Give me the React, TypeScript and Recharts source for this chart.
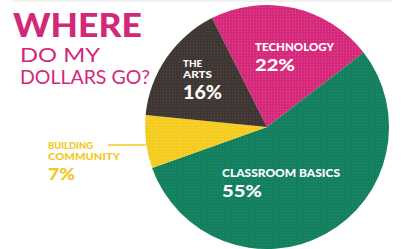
import React from 'react';
import { PieChart, Pie, Cell } from 'recharts';

const categories = ['TECHNOLOGY', 'CLASSROOM BASICS', 'BUILDING COMMUNITY', 'THE ARTS'];
const values = [22, 55, 7, 16];
const colors = ['#d5287a', '#137f5f', '#f5cb1e', '#3f3532'];
const dotColors = ['#e0478c', '#1f8c6b', '#f8d845', '#4e4441'];
const titleLines = ['WHERE', 'DO MY', 'DOLLARS GO?'];

const data = categories.map((name, i) => ({ name, value: values[i] }));

const W = 404;
const H = 249;

export default function App() {
  const sans = 'Lato, "Open Sans", sans-serif';
  return (
    <div style={{ position: 'absolute', left: 0, top: 0, width: W, height: H, background: '#fff', overflow: 'hidden' }}>
      <svg width={0} height={0} style={{ position: 'absolute' }}>
        <defs>
          {colors.map((c, i) => (
            <pattern key={i} id={`dots${i}`} width={3} height={3} patternUnits="userSpaceOnUse">
              <rect width={3} height={3} fill={c} />
              <circle cx={1.5} cy={1.5} r={0.7} fill={dotColors[i]} />
            </pattern>
          ))}
        </defs>
      </svg>
      <div style={{ position: 'absolute', left: 0, top: 0 }}>
        <PieChart width={W} height={H} margin={{ top: 0, right: 0, bottom: 0, left: 0 }}>
          <Pie
            data={data}
            dataKey="value"
            nameKey="name"
            cx={267}
            cy={127}
            outerRadius={122}
            startAngle={116.8}
            endAngle={-243.2}
            stroke="none"
            isAnimationActive={false}
            label={false}
            labelLine={false}
          >
            {data.map((d, i) => (
              <Cell key={d.name} fill={`url(#dots${i})`} />
            ))}
          </Pie>
        </PieChart>
      </div>
      <svg width={W} height={H} style={{ position: 'absolute', left: 0, top: 0, pointerEvents: 'none' }}>
        <line x1={13} y1={1} x2={392} y2={1} stroke="#e6e6e6" strokeWidth={1} />
        <text x={13} y={37} fontFamily={sans} fontWeight={900} fontSize={33} fill="#d2287a" textLength={129} lengthAdjust="spacingAndGlyphs">{titleLines[0]}</text>
        <text x={20} y={62} fontFamily={sans} fontWeight={400} fontSize={20} fill="#d2287a" textLength={80} lengthAdjust="spacingAndGlyphs">{titleLines[1]}</text>
        <text x={20} y={84} fontFamily={sans} fontWeight={400} fontSize={20} fill="#d2287a" textLength={130} lengthAdjust="spacingAndGlyphs">{titleLines[2]}</text>

        <text x={255} y={51} fontFamily={sans} fontWeight={900} fontSize={10.5} fill="#fff" textLength={79} lengthAdjust="spacingAndGlyphs">{categories[0]}</text>
        <text x={255} y={71} fontFamily={sans} fontWeight={900} fontSize={16} fill="#fff" textLength={40} lengthAdjust="spacingAndGlyphs">{`${values[0]}%`}</text>

        <text x={222} y={177} fontFamily={sans} fontWeight={900} fontSize={10.5} fill="#fff" textLength={118} lengthAdjust="spacingAndGlyphs">{categories[1]}</text>
        <text x={222} y={197} fontFamily={sans} fontWeight={900} fontSize={16} fill="#fff" textLength={40} lengthAdjust="spacingAndGlyphs">{`${values[1]}%`}</text>

        <text x={183} y={67} fontFamily={sans} fontWeight={900} fontSize={9.5} fill="#fff" textLength={19} lengthAdjust="spacingAndGlyphs">{categories[3].split(' ')[0]}</text>
        <text x={183} y={78} fontFamily={sans} fontWeight={900} fontSize={9.5} fill="#fff" textLength={29} lengthAdjust="spacingAndGlyphs">{categories[3].split(' ')[1]}</text>
        <text x={183} y={99} fontFamily={sans} fontWeight={900} fontSize={18} fill="#fff" textLength={39} lengthAdjust="spacingAndGlyphs">{`${values[3]}%`}</text>

        <text x={48} y={149} fontFamily={sans} fontWeight={900} fontSize={9.5} fill="#f3c820" textLength={45} lengthAdjust="spacingAndGlyphs">{categories[2].split(' ')[0]}</text>
        <text x={48} y={160} fontFamily={sans} fontWeight={900} fontSize={9.5} fill="#f3c820" textLength={72} lengthAdjust="spacingAndGlyphs">{categories[2].split(' ')[1]}</text>
        <text x={48} y={180} fontFamily={sans} fontWeight={900} fontSize={17} fill="#f3c820" textLength={27} lengthAdjust="spacingAndGlyphs">{`${values[2]}%`}</text>
        <line x1={108} y1={145} x2={146} y2={145} stroke="#f3c820" strokeWidth={1.5} />
      </svg>
    </div>
  );
}
